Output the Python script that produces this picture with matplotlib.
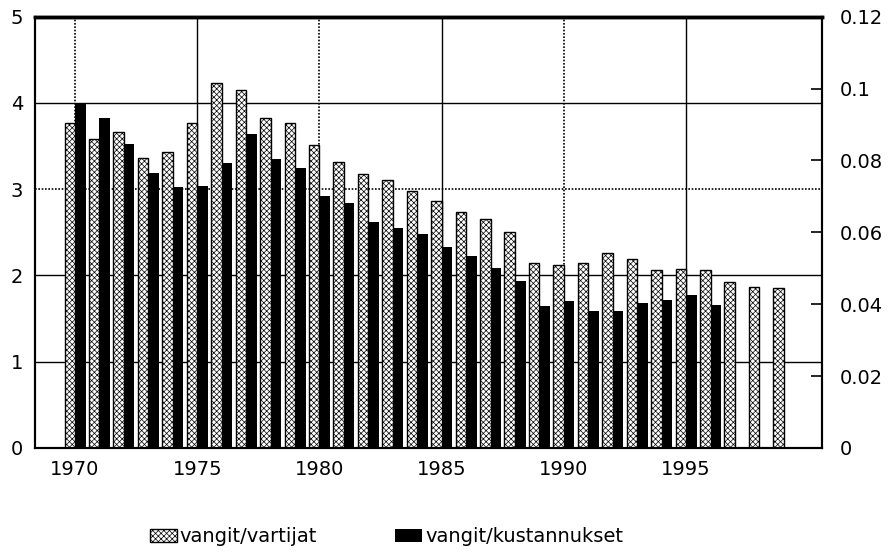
import numpy as np
import matplotlib.pyplot as plt

plt.rcParams['font.family'] = ['DejaVu Sans']
plt.rcParams['hatch.linewidth'] = 0.5

# data
years = np.arange(1970, 2000)
vartijat = [3.77, 3.58, 3.66, 3.36, 3.43, 3.77, 4.23, 4.15, 3.83, 3.77,
            3.51, 3.31, 3.18, 3.11, 2.98, 2.86, 2.74, 2.66, 2.50, 2.15,
            2.12, 2.15, 2.26, 2.19, 2.06, 2.08, 2.06, 1.93, 1.87, 1.86]
kust_years = np.arange(1970, 1997)
kustannukset = [0.0960, 0.0919, 0.0847, 0.0766, 0.0725, 0.0730, 0.0794, 0.0874,
                0.0804, 0.0778, 0.0701, 0.0682, 0.0629, 0.0612, 0.0595, 0.0559,
                0.0533, 0.0502, 0.0466, 0.0394, 0.0410, 0.0382, 0.0381, 0.0403,
                0.0413, 0.0425, 0.0398]
year_ticks = [1970, 1975, 1980, 1985, 1990, 1995]

fig = plt.figure(figsize=(8.92, 5.55), dpi=100)
ax = fig.add_axes([0.0392, 0.1928, 0.8823, 0.7771])
ax2 = ax.twinx()

w = 0.43
# grid lines
for y in [1, 2, 4]:
    ax.axhline(y, color='black', lw=1.0, zorder=0)
ax.axhline(3, color='black', lw=1.2, ls=(0, (1, 1)), zorder=0)
for x in year_ticks:
    if x in (1970, 1980, 1990):
        ax.axvline(x, color='black', lw=1.2, ls=(0, (1, 1)), zorder=0)
    else:
        ax.axvline(x, color='black', lw=1.0, zorder=0)

ax.bar(years - w / 2, vartijat, width=w, facecolor='white', edgecolor='black',
       hatch='xxxxxx', lw=1.0, zorder=2, label='vangit/vartijat')
ax2.bar(kust_years + w / 2, kustannukset, width=w, color='black',
        zorder=2, label='vangit/kustannukset')

ax.set_xlim(1968.36, 2000.56)
ax.set_ylim(0, 5)
ax2.set_ylim(0, 0.12)
ax.set_yticks([0, 1, 2, 3, 4, 5])
ax2.set_yticks([0, 0.02, 0.04, 0.06, 0.08, 0.1, 0.12])
ax2.set_yticklabels(['0', '0.02', '0.04', '0.06', '0.08', '0.1', '0.12'])
ax.set_xticks(year_ticks)
ax.tick_params(axis='x', length=0, labelsize=14, pad=9)
ax.tick_params(axis='y', length=0, labelsize=14, pad=8.5)
ax2.tick_params(axis='y', direction='in', length=8, width=1.2, labelsize=14, pad=13)

for a in (ax, ax2):
    for s in a.spines.values():
        s.set_linewidth(1.5)
    a.spines['top'].set_linewidth(2.5)

h1, l1 = ax.get_legend_handles_labels()
h2, l2 = ax2.get_legend_handles_labels()
fig.legend(h1 + h2, l1 + l2, loc='center', bbox_to_anchor=(0.433, 0.033),
           ncol=2, frameon=False, fontsize=14, handlelength=1.4,
           handletextpad=0.15, columnspacing=4)

fig.savefig('out.png', dpi=100)
